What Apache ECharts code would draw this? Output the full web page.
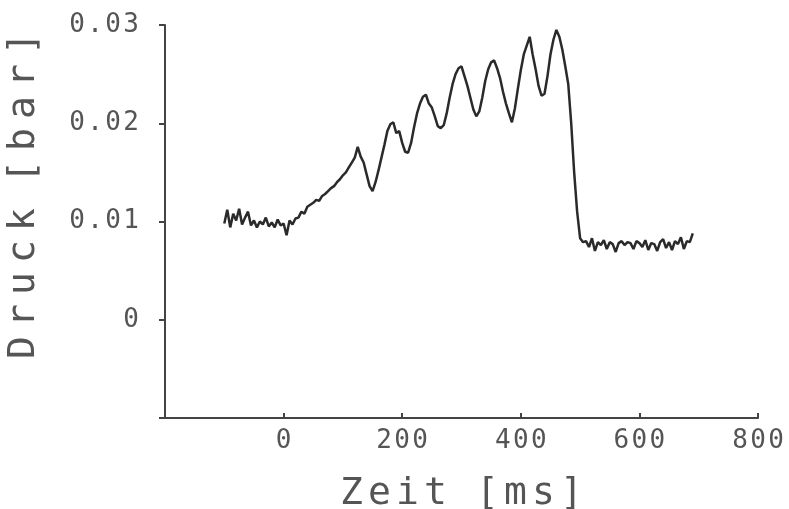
<!DOCTYPE html>
<html>
<head>
<meta charset="utf-8">
<script src="https://cdn.jsdelivr.net/npm/echarts@6/dist/echarts.min.js"></script>
<style>
html,body{margin:0;padding:0;background:#fff;}
#c{width:789px;height:509px;}
</style>
</head>
<body>
<div id="c"></div>
<script>
// Zeit [ms]
var times = [
  -100,-95,-90,-85,-80,-75,-70,-65,-60,-55,-50,-45,-40,-35,-30,-25,-20,-15,-10,-5,
  0,5,10,15,20,25,30,35,40,45,50,55,60,65,70,75,80,85,90,95,
  100,105,110,115,120,125,130,135,140,145,150,155,160,165,170,175,180,185,190,195,
  200,205,210,215,220,225,230,235,240,245,250,255,260,265,270,275,280,285,290,295,
  300,305,310,315,320,325,330,335,340,345,350,355,360,365,370,375,380,385,390,395,
  400,405,410,415,420,425,430,435,440,445,450,455,460,465,470,475,480,485,490,495,
  500,505,510,515,520,525,530,535,540,545,550,555,560,565,570,575,580,585,590,595,
  600,605,610,615,620,625,630,635,640,645,650,655,660,665,670,675,680,685,690
];
// Druck [bar]
var pressure = [
  0.0098,0.0112,0.0094,0.0108,0.0101,0.0113,0.0097,0.0104,0.0110,0.0096,
  0.0101,0.0094,0.0100,0.0097,0.0104,0.0095,0.0099,0.0094,0.0102,0.0096,
  0.0098,0.0086,0.0101,0.0097,0.0103,0.0104,0.0110,0.0108,0.0115,0.0117,
  0.0119,0.0122,0.0121,0.0126,0.0128,0.0131,0.0134,0.0136,0.0140,0.0143,
  0.0147,0.0150,0.0155,0.0160,0.0165,0.0176,0.0166,0.0160,0.0148,0.0136,
  0.0131,0.0140,0.0152,0.0165,0.0178,0.0192,0.0199,0.0201,0.0190,0.0192,
  0.0180,0.0171,0.0170,0.0180,0.0196,0.0210,0.0220,0.0227,0.0229,0.0220,
  0.0216,0.0207,0.0197,0.0195,0.0198,0.0210,0.0226,0.0240,0.0250,0.0256,
  0.0258,0.0248,0.0238,0.0226,0.0214,0.0207,0.0212,0.0226,0.0243,0.0255,
  0.0262,0.0264,0.0256,0.0246,0.0232,0.0220,0.0210,0.0201,0.0215,0.0235,
  0.0254,0.0270,0.0279,0.0288,0.0270,0.0255,0.0238,0.0228,0.0230,0.0248,
  0.0270,0.0285,0.0295,0.0288,0.0275,0.0258,0.0240,0.0200,0.0150,0.0110,
  0.0083,0.0079,0.0080,0.0074,0.0083,0.0070,0.0079,0.0076,0.0081,0.0072,
  0.0079,0.0077,0.0069,0.0078,0.0080,0.0076,0.0079,0.0078,0.0072,0.0080,
  0.0078,0.0074,0.0081,0.0071,0.0078,0.0077,0.0070,0.0079,0.0082,0.0073,
  0.0079,0.0071,0.0080,0.0077,0.0084,0.0072,0.0080,0.0079,0.0088
];
var xTickLabels = ['0','200','400','600','800'];
var yTickLabels = ['0','0.01','0.02','0.03'];
var xName = 'Zeit [ms]';
var yName = 'Druck [bar]';

var seriesData = times.map(function(t,i){ return [t, pressure[i]]; });

function spaced(str, style){
  return str.split('').map(function(ch){
    return ch === ' ' ? '{' + style + 's| }' : '{' + style + '|' + ch + '}';
  }).join('');
}
var TXT = '#555';
var FONT = 'DejaVu Sans Mono';
var tickRich = { d: { width: 18, align: 'center', fontSize: 26, fontFamily: FONT, color: TXT } };

function xFmt(v){
  var s = String(Math.round(v));
  return xTickLabels.indexOf(s) >= 0 ? spaced(s, 'd') : '';
}
function yFmt(v){
  var s = Math.abs(v) < 1e-9 ? '0' : v.toFixed(2);
  return yTickLabels.indexOf(s) >= 0 ? spaced(s, 'd') : '';
}

var chart = echarts.init(document.getElementById('c'), null, {renderer:'canvas'});
chart.setOption({
  animation: false,
  backgroundColor: '#fff',
  grid: { left: 165, right: 31, top: 25, bottom: 91, containLabel: false, outerBoundsMode: 'none' },
  xAxis: {
    type: 'value', min: -200, max: 800, interval: 200,
    name: spaced(xName, 'n'), nameLocation: 'middle', nameGap: 57,
    nameTextStyle: {
      rich: {
        n: { width: 28, align: 'center', fontSize: 38, fontFamily: FONT, color: TXT },
        ns: { width: 24, fontSize: 38, fontFamily: FONT }
      }
    },
    axisLine: { show: true, onZero: false, lineStyle: { color: '#444', width: 2 } },
    axisTick: { show: true, inside: true, length: 5, lineStyle: { color: '#444', width: 2 } },
    axisLabel: { formatter: xFmt, margin: 10, rich: tickRich },
    splitLine: { show: false }
  },
  yAxis: {
    type: 'value', min: -0.01, max: 0.03, interval: 0.01,
    name: spaced(yName, 'n'), nameLocation: 'middle', nameGap: 122, nameRotate: 90,
    nameTextStyle: {
      padding: [0, 0, 0, 52],
      rich: {
        n: { width: 32, align: 'center', fontSize: 38, fontFamily: FONT, color: TXT },
        ns: { width: 16, fontSize: 38, fontFamily: FONT }
      }
    },
    axisLine: { show: true, onZero: false, lineStyle: { color: '#444', width: 2 } },
    axisTick: { show: true, length: 6, lineStyle: { color: '#444', width: 2 } },
    axisLabel: { formatter: yFmt, margin: 25, rich: tickRich },
    splitLine: { show: false }
  },
  series: [{
    type: 'line', data: seriesData, showSymbol: false, symbol: 'none',
    lineStyle: { color: '#2a2a2a', width: 2.5 }
  }]
});
</script>
</body>
</html>
